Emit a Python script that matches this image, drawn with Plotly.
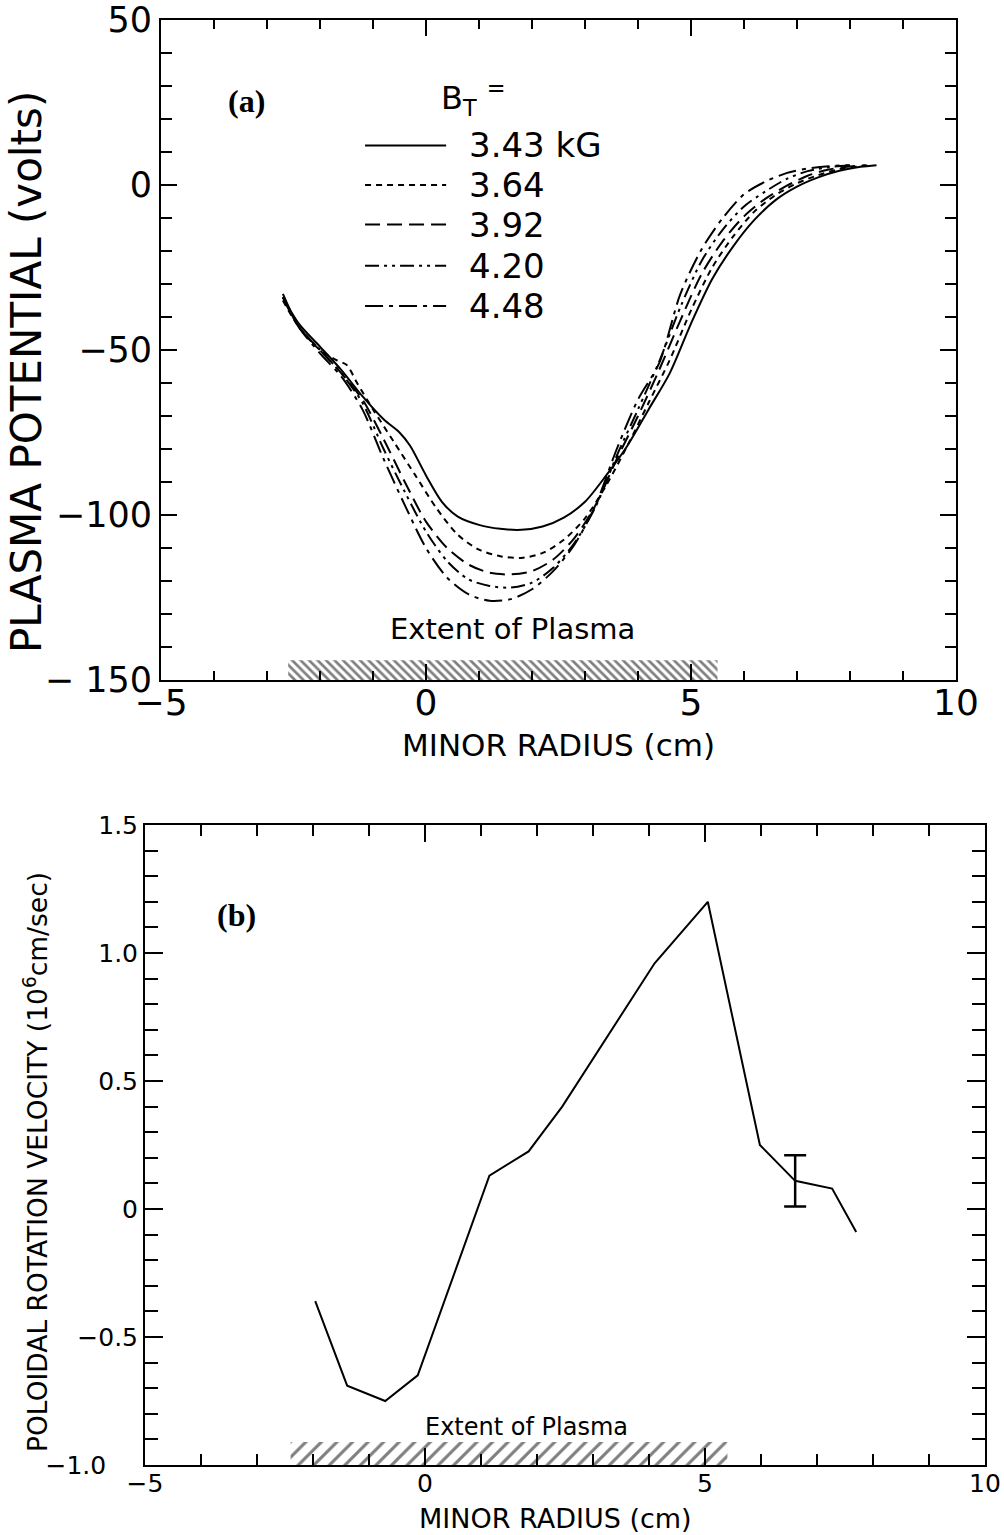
import plotly.graph_objects as go

# ---------------- data: panel (a) plasma potential ----------------
bt_labels = ["3.43 kG", "3.64", "3.92", "4.20", "4.48"]

x_343 = [-2.7, -2.4, -2.0, -1.6, -1.2, -0.8, -0.5, -0.3, 0.0, 0.3, 0.6, 1.0, 1.4, 1.8, 2.2, 2.6,
         3.0, 3.4, 3.8, 4.2, 4.6, 5.0, 5.4, 5.8, 6.2, 6.6, 7.0, 7.4, 7.8, 8.2, 8.5]
y_343 = [-34, -42, -49, -56, -64, -71, -75, -79, -88, -96, -100.5, -103, -104.2, -104.5, -103.5, -100.8,
         -96, -88, -79, -68, -57, -42, -28.5, -18.5, -10.5, -4.5, -0.5, 2.3, 4.3, 5.5, 6]

x_364 = [-2.7, -2.4, -2.0, -1.7, -1.5, -1.3, -1.0, -0.6, -0.2, 0.2, 0.6, 1.0, 1.4, 1.8, 2.2, 2.6,
         3.0, 3.4, 3.8, 4.2, 4.6, 5.0, 5.4, 5.8, 6.2, 6.6, 7.0, 7.4, 7.8, 8.2, 8.4]
y_364 = [-35, -43, -50, -53, -54.5, -60, -68, -78, -88, -98, -106, -110.5, -112.5, -113, -111.5, -107.5,
         -101, -91, -79, -66, -53, -38, -25, -15.5, -8, -3, 0.5, 3, 4.8, 5.7, 6]

x_392 = [-2.7, -2.4, -2.0, -1.6, -1.2, -0.8, -0.4, 0.0, 0.4, 0.8, 1.2, 1.6, 2.0, 2.4, 2.8, 3.2,
         3.6, 4.0, 4.4, 4.8, 5.2, 5.6, 6.0, 6.4, 6.8, 7.2, 7.6, 8.0, 8.3]
y_392 = [-34, -43, -50, -57, -65, -77, -90, -102, -110, -115, -117.5, -118, -117, -113.5, -107, -97,
         -83, -70, -56, -41, -27, -17, -9.5, -4.2, -0.3, 2.8, 4.7, 5.6, 6]

x_420 = [-2.7, -2.4, -2.0, -1.6, -1.2, -0.8, -0.4, 0.0, 0.4, 0.8, 1.2, 1.6, 2.0, 2.4, 2.8, 3.2,
         3.6, 4.0, 4.4, 4.8, 5.2, 5.6, 6.0, 6.4, 6.8, 7.2, 7.6, 8.0]
y_420 = [-34, -43, -50, -57, -66, -80, -93, -105, -114, -119.5, -121.5, -122, -120.5, -116, -108.5, -97.5,
         -82, -68, -53.5, -37, -23, -13.5, -6.5, -2, 1.8, 4.2, 5.4, 5.9]

x_448 = [-2.7, -2.4, -2.0, -1.6, -1.2, -0.8, -0.4, 0.0, 0.4, 0.8, 1.2, 1.6, 2.0, 2.4, 2.8, 3.2,
         3.6, 4.0, 4.4, 4.8, 5.2, 5.6, 6.0, 6.4, 6.8, 7.2, 7.6, 8.0]
y_448 = [-33, -43, -51, -58, -68, -83, -97, -110, -119, -124, -126, -125.5, -122.5, -117, -109, -97,
         -80, -65, -54, -33, -19.5, -10, -2.8, 1, 3.6, 5, 5.7, 6]

# legend row positions (data units of panel a)
legend_rows_y = [12, 0, -12, -24.5, -36.7]

# plasma extent (cm)
extent_a = [-2.6, 5.5]
extent_b = [-2.4, 5.4]

# ---------------- data: panel (b) poloidal rotation velocity ----------------
vx = [-1.96, -1.39, -0.71, -0.13, 1.15, 1.85, 2.45, 4.1, 5.05, 5.98, 6.61, 7.27, 7.7]
vy = [-0.36, -0.69, -0.75, -0.65, 0.13, 0.225, 0.40, 0.96, 1.2, 0.25, 0.11, 0.08, -0.09]
err_x = [6.61]
err_y = [0.11]
err_half = [0.1]

# tick labels
xticks = [-5, 0, 5, 10]
xtick_text = ["−5", "0", "5", "10"]
ya_ticks = [-150, -100, -50, 0, 50]
ya_text = ["− 150", "−100", "−50", "0", "50"]
yb_ticks = [-1.0, -0.5, 0, 0.5, 1.0, 1.5]
yb_text = ["−1.0\u00a0\u00a0\u00a0\u00a0", "−0.5", "0", "0.5", "1.0", "1.5"]

# ---------------- styling ----------------
FONT = "DejaVu Sans"
W, H = 1004, 1535
dom_a_x = [161 / W, 956 / W]
dom_a_y = [1 - 680 / H, 1 - 20 / H]
dom_b_x = [145 / W, 985 / W]
dom_b_y = [1 - 1465 / H, 1 - 825 / H]

dashes = ["solid", "6px,5px", "15px,7px", "14px,5px,3px,5px,3px,5px", "18px,6px,4px,6px"]
series = [(x_343, y_343), (x_364, y_364), (x_392, y_392), (x_420, y_420), (x_448, y_448)]

fig = go.Figure()

# hatched extent bars
fig.add_trace(go.Scatter(
    x=[extent_a[0], extent_a[1], extent_a[1], extent_a[0], extent_a[0]],
    y=[-150, -150, -144, -144, -150], mode="lines", fill="toself",
    line=dict(width=0, color="black"), fillcolor="white",
    fillpattern=dict(shape="\\", fgcolor="black", bgcolor="white", size=6, solidity=0.45),
    xaxis="x", yaxis="y", showlegend=False, hoverinfo="skip"))
fig.add_trace(go.Scatter(
    x=[extent_b[0], extent_b[1], extent_b[1], extent_b[0], extent_b[0]],
    y=[-1.0, -1.0, -0.91, -0.91, -1.0], mode="lines", fill="toself",
    line=dict(width=0, color="black"), fillcolor="white",
    fillpattern=dict(shape="/", fgcolor="black", bgcolor="white", size=11, solidity=0.28),
    xaxis="x2", yaxis="y2", showlegend=False, hoverinfo="skip"))

for (xs, ys), d, name in zip(series, dashes, bt_labels):
    fig.add_trace(go.Scatter(x=xs, y=ys, mode="lines", name=name,
                             line=dict(color="black", width=2, dash=d, shape="spline", smoothing=0.8),
                             xaxis="x", yaxis="y", showlegend=False))

fig.add_trace(go.Scatter(x=vx, y=vy, mode="lines", line=dict(color="black", width=2),
                         xaxis="x2", yaxis="y2", showlegend=False))
fig.add_trace(go.Scatter(x=err_x, y=err_y, mode="markers", marker=dict(size=1, color="black"),
                         error_y=dict(type="data", array=err_half, color="black", thickness=2.5, width=11),
                         xaxis="x2", yaxis="y2", showlegend=False))

# legend samples (lines + text) inside panel (a)
shapes = []
annotations = []
for yy, d, lab in zip(legend_rows_y, dashes, bt_labels):
    shapes.append(dict(type="line", xref="x", yref="y", x0=-1.15, x1=0.38, y0=yy, y1=yy,
                       line=dict(color="black", width=2, dash=d)))
    annotations.append(dict(xref="x", yref="y", x=0.78, y=yy, text=lab, showarrow=False,
                            xanchor="left", yanchor="middle", font=dict(family=FONT, size=34, color="black")))
annotations.append(dict(xref="x", yref="y", x=0.25, y=26.5, text="B<sub>T</sub> <sup>=</sup>", showarrow=False,
                        xanchor="left", yanchor="middle", font=dict(family=FONT, size=32, color="black")))
annotations.append(dict(xref="x", yref="y", x=-3.38, y=25.5, text="<b>(a)</b>", showarrow=False,
                        xanchor="center", yanchor="middle", font=dict(family="Liberation Serif", size=32, color="black")))
annotations.append(dict(xref="x", yref="y", x=1.63, y=-134.5, text="Extent of Plasma", showarrow=False,
                        xanchor="center", yanchor="middle", font=dict(family=FONT, size=29, color="black")))
annotations.append(dict(xref="x2", yref="y2", x=1.82, y=-0.85, text="Extent of Plasma", showarrow=False,
                        xanchor="center", yanchor="middle", font=dict(family=FONT, size=24, color="black")))
annotations.append(dict(xref="x2", yref="y2", x=-3.36, y=1.15, text="<b>(b)</b>", showarrow=False,
                        xanchor="center", yanchor="middle", font=dict(family="Liberation Serif", size=32, color="black")))
# axis titles
annotations.append(dict(xref="paper", yref="paper", x=27 / W, y=1 - 372 / H, text="PLASMA POTENTIAL (volts)",
                        textangle=-90, showarrow=False, xanchor="center", yanchor="middle",
                        font=dict(family=FONT, size=42, color="black")))
annotations.append(dict(xref="paper", yref="paper", x=558 / W, y=1 - 745 / H, text="MINOR RADIUS (cm)",
                        showarrow=False, xanchor="center", yanchor="middle",
                        font=dict(family=FONT, size=31, color="black")))
annotations.append(dict(xref="paper", yref="paper", x=36 / W, y=1 - 1162 / H,
                        text="POLOIDAL ROTATION VELOCITY (10<sup>6</sup>cm/sec)",
                        textangle=-90, showarrow=False, xanchor="center", yanchor="middle",
                        font=dict(family=FONT, size=26.5, color="black")))
annotations.append(dict(xref="paper", yref="paper", x=555 / W, y=1 - 1518 / H, text="MINOR RADIUS (cm)",
                        showarrow=False, xanchor="center", yanchor="middle",
                        font=dict(family=FONT, size=27, color="black")))

common = dict(showline=True, mirror="allticks", linecolor="black", linewidth=2, showgrid=False,
              zeroline=False, ticks="inside", tickcolor="black", tickwidth=2, automargin=False,
              ticklabeloverflow="allow")

fig.update_layout(
    width=W, height=H, margin=dict(l=0, r=0, t=0, b=0, autoexpand=False),
    paper_bgcolor="white", plot_bgcolor="white", showlegend=False,
    xaxis=dict(domain=dom_a_x, range=[-5, 10], tickvals=xticks, ticktext=xtick_text,
               ticklen=16, ticklabelstandoff=-10,
               minor=dict(dtick=1, ticklen=9, ticks="inside", tickcolor="black", tickwidth=2),
               tickfont=dict(family=FONT, size=36, color="black"), anchor="y", **common),
    yaxis=dict(domain=dom_a_y, range=[-150, 50], tickvals=ya_ticks, ticktext=ya_text, ticklen=16,
               minor=dict(dtick=10, ticklen=11, ticks="inside", tickcolor="black", tickwidth=2),
               tickfont=dict(family=FONT, size=35, color="black"), anchor="x", **common),
    xaxis2=dict(domain=dom_b_x, range=[-5, 10], tickvals=xticks, ticktext=xtick_text,
                ticklen=17, ticklabelstandoff=-5,
                minor=dict(dtick=1, ticklen=11, ticks="inside", tickcolor="black", tickwidth=2),
                tickfont=dict(family=FONT, size=25, color="black"), anchor="y2", **common),
    yaxis2=dict(domain=dom_b_y, range=[-1.0, 1.5], tickvals=yb_ticks, ticktext=yb_text, ticklen=18,
                minor=dict(dtick=0.1, ticklen=13, ticks="inside", tickcolor="black", tickwidth=2),
                tickfont=dict(family=FONT, size=25, color="black"), anchor="x2", **common),
    shapes=shapes, annotations=annotations,
)

fig.write_html("out.html")
